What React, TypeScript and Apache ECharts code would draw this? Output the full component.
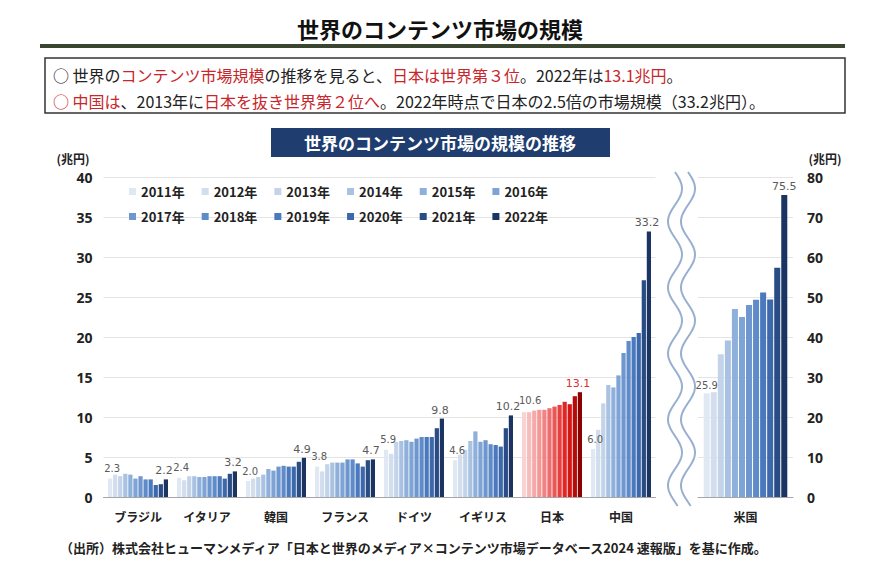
import React, { useEffect, useRef } from "react";
import * as echarts from "echarts";

const years = ["2011年", "2012年", "2013年", "2014年", "2015年", "2016年", "2017年", "2018年", "2019年", "2020年", "2021年", "2022年"];
const countries = ["ブラジル", "イタリア", "韓国", "フランス", "ドイツ", "イギリス", "日本", "中国"];
const brazil = [2.3, 2.8, 2.6, 2.9, 2.8, 2.3, 2.6, 2.2, 2.2, 1.5, 1.6, 2.2];
const italy = [2.4, 2.1, 2.6, 2.6, 2.5, 2.5, 2.6, 2.6, 2.6, 2.3, 2.9, 3.2];
const korea = [2.0, 2.3, 2.5, 2.8, 3.5, 3.3, 3.8, 3.9, 3.8, 3.8, 4.4, 4.9];
const france = [3.8, 3.2, 4.1, 4.3, 4.3, 4.3, 4.7, 4.7, 4.2, 3.8, 4.6, 4.7];
const germany = [5.9, 5.4, 6.9, 7.0, 7.1, 6.9, 7.3, 7.5, 7.5, 7.5, 8.6, 9.8];
const uk = [4.6, 5.3, 5.9, 7.0, 8.2, 6.9, 7.1, 6.6, 6.5, 6.3, 8.6, 10.2];
const japan = [10.6, 10.6, 10.8, 10.9, 10.9, 11.1, 11.3, 11.5, 11.9, 11.6, 12.6, 13.1];
const china = [6.0, 8.4, 11.7, 14.0, 13.7, 15.2, 18.0, 19.5, 20.0, 20.5, 27.1, 33.2];
const usCategory = ["米国"];
const usa = [25.9, 26.2, 35.7, 39.1, 47.0, 45.0, 48.0, 49.3, 51.1, 49.4, 57.3, 75.5];
const leftTicks = { min: 0, max: 40, interval: 5 };
const rightTicks = { min: 0, max: 80, interval: 10 };

const blues = ["#dfe8f3", "#d2deed", "#c3d4ea", "#a9c2e2", "#8fb0db", "#7ea3d5", "#6f97cf", "#5f8cc9", "#4a79bd", "#3c69ab", "#294c85", "#1b3461"];
const reds = ["#f9d2d2", "#f7bcbc", "#f5a9a9", "#f39797", "#f08383", "#ee6e6e", "#ea5757", "#e73e3e", "#e22626", "#d31616", "#b50b0b", "#8c0000"];

const FONT = "'Noto Sans CJK JP', 'Noto Sans', sans-serif";

function wavePoints(cx: number, y0: number, y1: number) {
  const pts: number[][] = [];
  for (let y = y0; y <= y1; y += 2) {
    pts.push([cx + 7 * Math.sin(((y - y0) / 66) * Math.PI * 2), y]);
  }
  return pts;
}

export default function App() {
  const ref = useRef<HTMLDivElement>(null);
  useEffect(() => {
    if (!ref.current) return;
    const chart = echarts.init(ref.current, undefined, { renderer: "svg" });
    const table = [brazil, italy, korea, france, germany, uk, japan, china];
    const japanIdx = countries.indexOf("日本");
    const last = years.length - 1;

    const labelBase = (i: number) => ({
      show: i === 0 || i === last,
      position: "top",
      distance: 3,
      color: "#5a5a5a",
      fontFamily: "'DejaVu Sans', sans-serif",
      fontSize: i === 0 ? 10 : 11,
      offset: i === 0 ? [2, -2] : [-2, 0],
      formatter: (p: any) => Number(p.value).toFixed(1),
    });

    const mainSeries = years.map((y, i) => ({
      name: y,
      type: "bar",
      xAxisIndex: 0,
      yAxisIndex: 0,
      barGap: "20%",
      barCategoryGap: "13%",
      itemStyle: { color: blues[i] },
      label: labelBase(i),
      data: table.map((row, c) => {
        if (c === japanIdx) {
          let label: any = {};
          if (i === last) label = { color: "#d8322e" };
          if (i === 0) label = { offset: [6, -4] };
          return { value: row[i], itemStyle: { color: reds[i] }, label };
        }
        if (c === japanIdx - 1 && i === last) {
          return { value: row[i], label: { offset: [-3, 0] } };
        }
        return row[i];
      }),
    }));

    const usSeries = years.map((y, i) => ({
      name: y,
      type: "bar",
      xAxisIndex: 1,
      yAxisIndex: 1,
      barGap: "17%",
      barCategoryGap: "12%",
      itemStyle: { color: blues[i] },
      label: { ...labelBase(i), offset: [0, 0] },
      data: [usa[i]],
    }));

    const legendCommon = {
      orient: "horizontal",
      left: 124,
      itemWidth: 7,
      itemHeight: 7,
      itemGap: 17,
      icon: "rect",
      textStyle: { fontFamily: FONT, fontSize: 13, fontWeight: "bold", color: "#222" },
    };

    const waveStyle = { stroke: "#98afd0", lineWidth: 2, fill: "none" };

    chart.setOption({
      animation: false,
      backgroundColor: "#ffffff",
      legend: [
        { ...legendCommon, top: 180, data: years.slice(0, 6) },
        { ...legendCommon, top: 205, data: years.slice(6) },
      ],
      grid: [
        { left: 103.5, top: 177, width: 552, height: 320 },
        { left: 698, top: 177, width: 95, height: 320 },
      ],
      xAxis: [
        {
          type: "category",
          gridIndex: 0,
          data: countries,
          axisTick: { show: false },
          axisLine: { lineStyle: { color: "#a6a6a6" } },
          axisLabel: { margin: 13, fontFamily: FONT, fontSize: 12, fontWeight: "bold", color: "#222" },
        },
        {
          type: "category",
          gridIndex: 1,
          data: usCategory,
          axisTick: { show: false },
          axisLine: { lineStyle: { color: "#a6a6a6" } },
          axisLabel: { margin: 13, fontFamily: FONT, fontSize: 12, fontWeight: "bold", color: "#222" },
        },
      ],
      yAxis: [
        {
          type: "value",
          gridIndex: 0,
          ...leftTicks,
          axisLine: { show: false },
          axisTick: { show: false },
          splitLine: { lineStyle: { color: "#e4e4e4" } },
          axisLabel: { margin: 11, fontFamily: "'Noto Sans', sans-serif", fontSize: 14, fontWeight: "bold", color: "#222" },
        },
        {
          type: "value",
          gridIndex: 1,
          position: "right",
          ...rightTicks,
          axisLine: { show: false },
          axisTick: { show: false },
          splitLine: { lineStyle: { color: "#e4e4e4" } },
          axisLabel: { margin: 14, fontFamily: "'Noto Sans', sans-serif", fontSize: 14, fontWeight: "bold", color: "#222" },
        },
      ],
      series: [...mainSeries, ...usSeries],
      graphic: [
        {
          type: "text",
          x: 440,
          y: 28,
          style: { text: "世界のコンテンツ市場の規模", font: `bold 22px ${FONT}`, fill: "#111", textAlign: "center", textVerticalAlign: "middle" },
        },
        { type: "rect", shape: { x: 40, y: 44, width: 805, height: 4 }, style: { fill: "#3b4630" } },
        { type: "rect", shape: { x: 45, y: 58, width: 800, height: 55 }, style: { fill: "none", stroke: "#333", lineWidth: 1.5 } },
        {
          type: "text",
          x: 53,
          y: 75,
          style: {
            text: "{b|○ 世界の}{r|コンテンツ市場規模}{b|の推移を見ると、}{r|日本は世界第３位}{b|。2022年は}{r|13.1兆円}{b|。}",
            textVerticalAlign: "middle",
            rich: {
              b: { font: `16px ${FONT}`, fill: "#222" },
              r: { font: `16px ${FONT}`, fill: "#c8262b" },
            },
          },
        },
        {
          type: "text",
          x: 53,
          y: 101,
          style: {
            text: "{r|○ 中国は}{b|、2013年に}{r|日本を抜き世界第２位へ}{b|。2022年時点で日本の2.5倍の市場規模（33.2兆円）。}",
            textVerticalAlign: "middle",
            rich: {
              b: { font: `16px ${FONT}`, fill: "#222" },
              r: { font: `16px ${FONT}`, fill: "#c8262b" },
            },
          },
        },
        { type: "rect", shape: { x: 271, y: 128, width: 339, height: 29 }, style: { fill: "#1f3d6e" } },
        {
          type: "text",
          x: 440,
          y: 142.5,
          style: { text: "世界のコンテンツ市場の規模の推移", font: `bold 17px ${FONT}`, fill: "#fff", textAlign: "center", textVerticalAlign: "middle" },
        },
        {
          type: "text",
          x: 73,
          y: 158,
          style: { text: "(兆円)", font: `bold 12px ${FONT}`, fill: "#222", textAlign: "center", textVerticalAlign: "middle" },
        },
        {
          type: "text",
          x: 825,
          y: 158,
          style: { text: "(兆円)", font: `bold 12px ${FONT}`, fill: "#222", textAlign: "center", textVerticalAlign: "middle" },
        },
        { type: "polyline", shape: { points: wavePoints(675, 172, 506), smooth: 0 }, style: waveStyle },
        { type: "polyline", shape: { points: wavePoints(688, 172, 506), smooth: 0 }, style: waveStyle },
        {
          type: "text",
          x: 60,
          y: 547,
          style: {
            text: "（出所）株式会社ヒューマンメディア「日本と世界のメディア×コンテンツ市場データベース2024 速報版」を基に作成。",
            font: `bold 13px ${FONT}`,
            fill: "#222",
            textVerticalAlign: "middle",
          },
        },
      ],
    });
    return () => chart.dispose();
  }, []);
  return <div ref={ref} style={{ position: "fixed", left: 0, top: 0, width: 870, height: 579 }} />;
}
